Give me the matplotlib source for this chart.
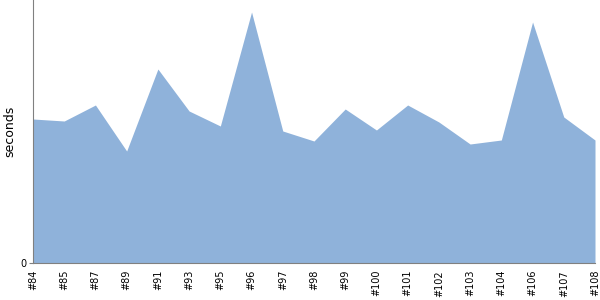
import numpy as np
import matplotlib

matplotlib.use("Agg")
import matplotlib.pyplot as plt

# build labels and durations (seconds)
builds = ["#84", "#85", "#87", "#89", "#91", "#93", "#95", "#96", "#97", "#98",
          "#99", "#100", "#101", "#102", "#103", "#104", "#106", "#107", "#108"]
durations = [14.4, 14.2, 15.8, 11.2, 19.4, 15.2, 13.7, 25.1, 13.2, 12.2,
             15.4, 13.3, 15.8, 14.1, 11.9, 12.3, 24.1, 14.6, 12.3]


def main():
    fig = plt.figure(figsize=(6, 3), dpi=100)
    ax = fig.add_axes([33 / 600, 37 / 300, 562 / 600, 263 / 300])

    x = np.arange(len(builds))
    ax.fill_between(x, 0, durations, color="#8fb2da", linewidth=0)

    ax.set_xlim(0, len(builds) - 1)
    ax.set_ylim(0, 26.3)
    ax.set_xticks(x)
    ax.set_xticklabels(builds, rotation=90, fontsize=7)
    ax.tick_params(axis="x", length=0, pad=5)
    ax.set_yticks([0])
    ax.tick_params(axis="y", length=3, labelsize=7, color="#808080", pad=2)
    ax.set_ylabel("seconds", fontsize=9)
    ax.yaxis.set_label_coords(-0.030, 0.5)

    for side in ("top", "right"):
        ax.spines[side].set_visible(False)
    for side in ("left", "bottom"):
        ax.spines[side].set_color("#808080")

    fig.savefig("out.png", dpi=100)


if __name__ == "__main__":
    main()
